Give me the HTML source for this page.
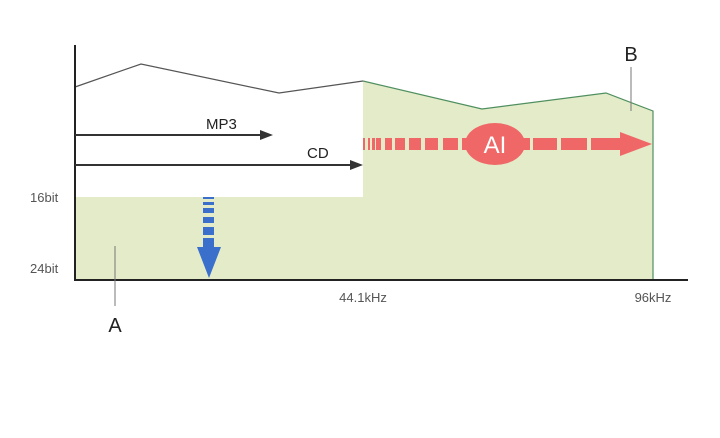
<!DOCTYPE html>
<html><head><style>
html,body{margin:0;padding:0;background:#fff;}
svg{display:block;}
text{font-family:"Liberation Sans",sans-serif;}
</style></head><body>
<svg width="720" height="438" viewBox="0 0 720 438" xmlns="http://www.w3.org/2000/svg">
<polygon points="75,197 363,197 363,81 482,109 606,93 653,111 653,280 75,280" fill="#e4ebc9"/>
<polyline points="75,87 141,64 279,93 363,81" fill="none" stroke="#555" stroke-width="1.2"/>
<polyline points="363,81 482,109 606,93 653,111 653,280" fill="none" stroke="#4f8f5f" stroke-width="1.2"/>
<line x1="75" y1="45" x2="75" y2="281" stroke="#222" stroke-width="2"/>
<line x1="74" y1="280" x2="688" y2="280" stroke="#222" stroke-width="2"/>
<line x1="75" y1="135" x2="262" y2="135" stroke="#333" stroke-width="2"/>
<polygon points="260,130 273,135 260,140" fill="#333"/>
<text x="206" y="129" font-size="15" fill="#222">MP3</text>
<line x1="75" y1="165" x2="352" y2="165" stroke="#333" stroke-width="2"/>
<polygon points="350,160 363,165 350,170" fill="#333"/>
<text x="307" y="158" font-size="15" fill="#222">CD</text>
<g fill="#f06767">
<rect x="363" y="138" width="2" height="12"/><rect x="368" y="138" width="2" height="12"/>
<rect x="372" y="138" width="3" height="12"/><rect x="376" y="138" width="5" height="12"/>
<rect x="385" y="138" width="7" height="12"/><rect x="395" y="138" width="10" height="12"/>
<rect x="409" y="138" width="12" height="12"/><rect x="425" y="138" width="13" height="12"/>
<rect x="443" y="138" width="15" height="12"/><rect x="462" y="138" width="10" height="12"/>
<ellipse cx="495" cy="144" rx="30" ry="21"/>
<rect x="518" y="138" width="12" height="12"/><rect x="533" y="138" width="24" height="12"/>
<rect x="561" y="138" width="26" height="12"/><rect x="591" y="138" width="30" height="12"/>
<polygon points="620,132 652,144 620,156"/>
</g>
<text x="495" y="153" font-size="24" fill="#fff" text-anchor="middle">AI</text>
<g fill="#3a6fcc">
<rect x="203" y="197" width="11" height="2"/><rect x="203" y="202" width="11" height="3"/>
<rect x="203" y="208" width="11" height="5"/><rect x="203" y="217" width="11" height="6"/>
<rect x="203" y="227" width="11" height="8"/><rect x="203" y="238" width="11" height="10"/>
<polygon points="197,247 221,247 209,278"/>
</g>
<text x="30" y="202" font-size="13" fill="#555">16bit</text>
<text x="30" y="273" font-size="13" fill="#555">24bit</text>
<text x="363" y="302" font-size="13" fill="#555" text-anchor="middle">44.1kHz</text>
<text x="653" y="302" font-size="13" fill="#555" text-anchor="middle">96kHz</text>
<line x1="115" y1="246" x2="115" y2="306" stroke="#777" stroke-width="1"/>
<text x="115" y="332" font-size="20" fill="#222" text-anchor="middle">A</text>
<line x1="631" y1="67" x2="631" y2="111" stroke="#777" stroke-width="1"/>
<text x="631" y="61" font-size="20" fill="#222" text-anchor="middle">B</text>
</svg>
</body></html>
